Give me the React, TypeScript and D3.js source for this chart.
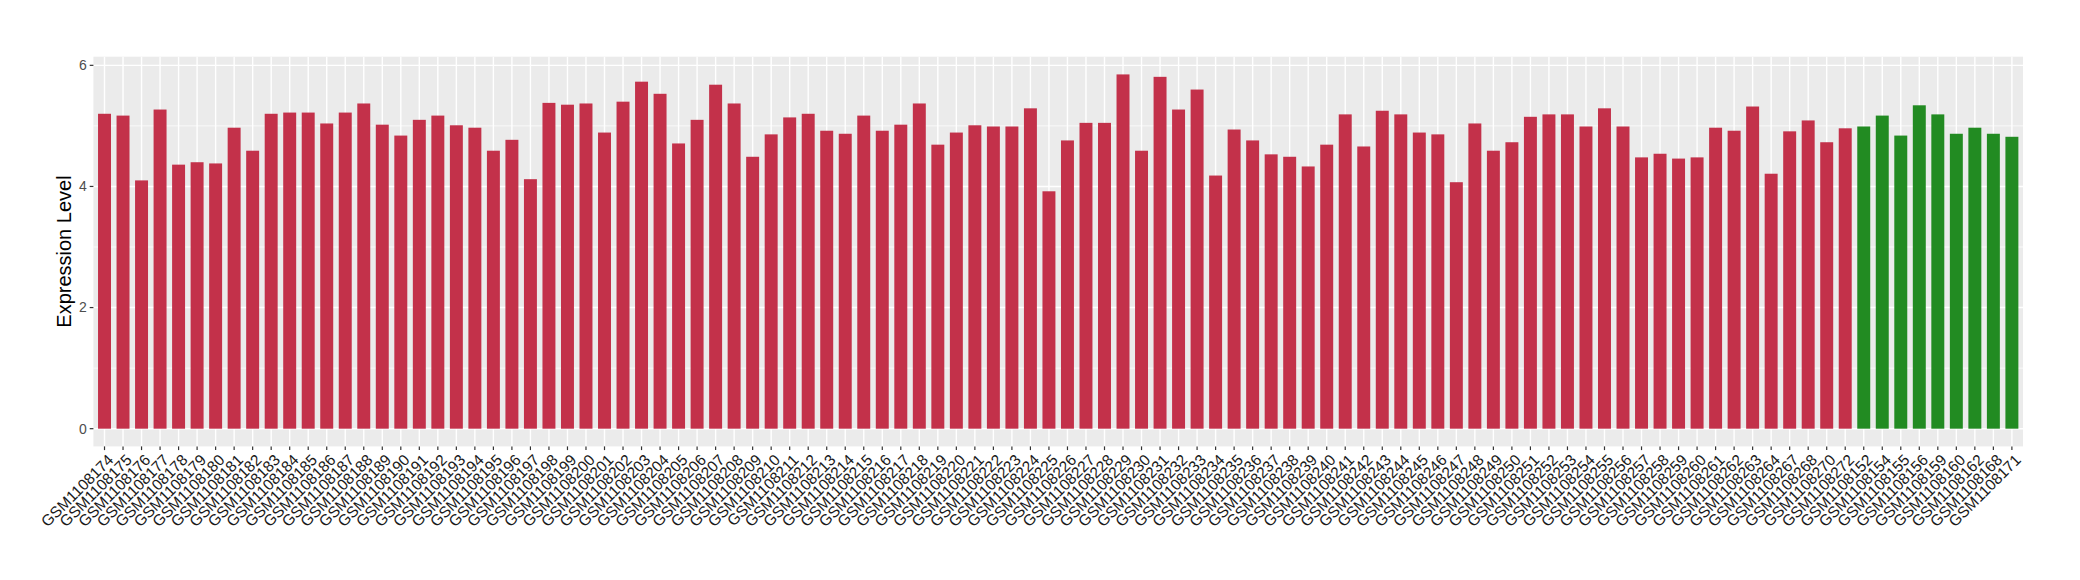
import React from "react";
import * as d3 from "d3";

const groupASamples: string[] = [
  ...d3.range(174, 265).map((n) => `GSM1108${n}`),
  "GSM1108267", "GSM1108268", "GSM1108270", "GSM1108272",
];
const groupAValues: number[] = [
  5.20, 5.17, 4.10, 5.27, 4.36, 4.40, 4.38, 4.97, 4.59, 5.20,
  5.22, 5.22, 5.04, 5.22, 5.37, 5.02, 4.84, 5.10, 5.17, 5.01,
  4.97, 4.59, 4.77, 4.12, 5.38, 5.35, 5.37, 4.89, 5.40, 5.73,
  5.53, 4.71, 5.10, 5.68, 5.37, 4.49, 4.86, 5.14, 5.20, 4.92,
  4.87, 5.17, 4.92, 5.02, 5.37, 4.69, 4.89, 5.01, 4.99, 4.99,
  5.29, 3.92, 4.76, 5.05, 5.05, 5.85, 4.59, 5.81, 5.27, 5.60,
  4.18, 4.94, 4.76, 4.53, 4.49, 4.33, 4.69, 5.19, 4.66, 5.25,
  5.19, 4.89, 4.86, 4.07, 5.04, 4.59, 4.73, 5.15, 5.19, 5.19,
  4.99, 5.29, 4.99, 4.48, 4.54, 4.46, 4.48, 4.97, 4.92, 5.32,
  4.21, 4.91, 5.09, 4.73, 4.96,
];
const groupBSamples: string[] = [
  "GSM1108152", "GSM1108154", "GSM1108155", "GSM1108156", "GSM1108159",
  "GSM1108160", "GSM1108162", "GSM1108168", "GSM1108171",
];
const groupBValues: number[] = [4.99, 5.17, 4.84, 5.34, 5.19, 4.87, 4.97, 4.87, 4.82];

const yTicks: number[] = [0, 2, 4, 6];
const yMinor: number[] = [1, 3, 5];
const yTitle = "Expression Level";

const colorA = "#C3314A";
const colorB = "#228B22";

type Row = { sample: string; value: number; group: "A" | "B" };
const rows: Row[] = [
  ...groupASamples.map((s, i) => ({ sample: s, value: groupAValues[i], group: "A" as const })),
  ...groupBSamples.map((s, i) => ({ sample: s, value: groupBValues[i], group: "B" as const })),
];

export default function App() {
  const W = 2080, H = 580;
  const left = 93.4, right = 2023, top = 56.7, bottom = 446.4;
  const font = "'Liberation Sans', Arial, Helvetica, sans-serif";
  const maxV = d3.max(rows, (d) => d.value) as number;

  const x = d3
    .scaleBand<string>()
    .domain(rows.map((d) => d.sample))
    .range([left, right])
    .paddingInner(0.3)
    .paddingOuter(0.25);
  const y = d3
    .scaleLinear()
    .domain([-0.05 * maxV, 1.05 * maxV])
    .range([bottom, top]);

  const bw = x.bandwidth();
  const tickLen = 3.7;

  return (
    <svg
      width={W}
      height={H}
      style={{ position: "absolute", left: 0, top: 0, background: "#fff" }}
      fontFamily={font}
    >
      <rect x={left} y={top} width={right - left} height={bottom - top} fill="#EBEBEB" />
      {yMinor.map((t) => (
        <line key={"mn" + t} x1={left} x2={right} y1={y(t)} y2={y(t)} stroke="#fff" strokeWidth={0.7} />
      ))}
      {yTicks.map((t) => (
        <line key={"mj" + t} x1={left} x2={right} y1={y(t)} y2={y(t)} stroke="#fff" strokeWidth={1.4} />
      ))}
      {rows.map((d) => {
        const cx = (x(d.sample) as number) + bw / 2;
        return <line key={"vg" + d.sample} x1={cx} x2={cx} y1={top} y2={bottom} stroke="#fff" strokeWidth={1.4} />;
      })}
      {rows.map((d) => (
        <rect
          key={"b" + d.sample}
          x={x(d.sample) as number}
          y={y(d.value)}
          width={bw}
          height={y(0) - y(d.value)}
          fill={d.group === "A" ? colorA : colorB}
        />
      ))}
      {yTicks.map((t) => (
        <g key={"yt" + t}>
          <line x1={left - tickLen} x2={left} y1={y(t)} y2={y(t)} stroke="#333" strokeWidth={1.2} />
          <text
            x={left - tickLen - 3}
            y={y(t)}
            dy="0.35em"
            textAnchor="end"
            fontSize={14}
            fill="#4D4D4D"
          >
            {t}
          </text>
        </g>
      ))}
      {rows.map((d) => {
        const cx = (x(d.sample) as number) + bw / 2;
        return (
          <g key={"xt" + d.sample}>
            <line x1={cx} x2={cx} y1={bottom} y2={bottom + tickLen} stroke="#333" strokeWidth={1.2} />
            <text
              transform={`translate(${cx + 2},${bottom + tickLen + 3}) rotate(-45)`}
              textAnchor="end"
              dy="0.72em"
              fontSize={15.5}
              fill="#1a1a1a"
            >
              {d.sample}
            </text>
          </g>
        );
      })}
      <text
        transform={`translate(${64},${(top + bottom) / 2}) rotate(-90)`}
        textAnchor="middle"
        dy="0.35em"
        fontSize={20}
        fill="#000"
      >
        {yTitle}
      </text>
    </svg>
  );
}
